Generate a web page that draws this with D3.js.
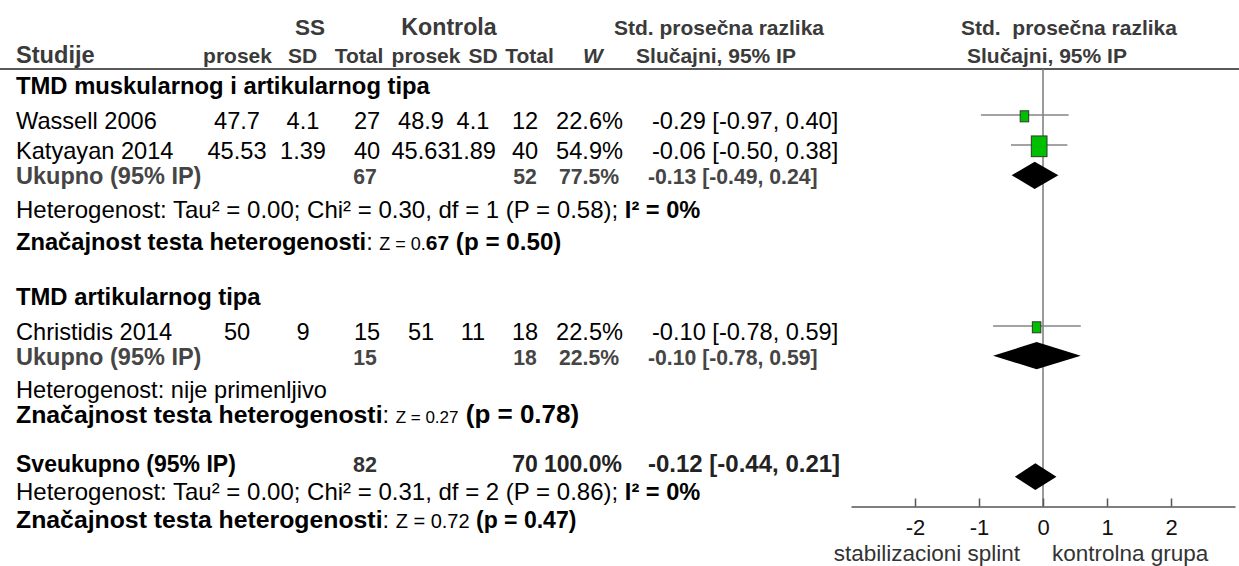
<!DOCTYPE html>
<html><head><meta charset="utf-8">
<script src="https://cdn.jsdelivr.net/npm/d3@7"></script>
<style>html,body{margin:0;padding:0;background:#fff;} svg{display:block;font-family:"Liberation Sans",Arial,sans-serif;} text{white-space:pre;}</style>
</head><body><svg id="c" width="1239" height="566"></svg>
<script>
// ---------- data ----------
const studies = ["Wassell 2006", "Katyayan 2014", "Christidis 2014"];
const studyGroup = [0, 0, 1];
const ssMean = [47.7, 45.53, 50];
const ssSD = [4.1, 1.39, 9];
const ssTotal = [27, 40, 15];
const ctlMean = [48.9, 45.63, 51];
const ctlSD = [4.1, 1.89, 11];
const ctlTotal = [12, 40, 18];
const weight = [22.6, 54.9, 22.5];
const smd = [-0.29, -0.06, -0.10];
const ciLow = [-0.97, -0.50, -0.78];
const ciHigh = [0.40, 0.38, 0.59];

const groups = ["TMD muskularnog i artikularnog tipa", "TMD artikularnog tipa"];
const groupSSTotal = [67, 15];
const groupCtlTotal = [52, 18];
const groupWeight = [77.5, 22.5];
const groupSMD = [-0.13, -0.10];
const groupLow = [-0.49, -0.78];
const groupHigh = [0.24, 0.59];
const groupTau2 = [0.00, null];
const groupChi2 = [0.30, null];
const groupDf = [1, null];
const groupHetP = [0.58, null];
const groupI2 = [0, null];
const groupZ = [0.67, 0.27];
const groupP = [0.50, 0.78];

const totalSS = 82, totalCtl = 70, totalWeight = 100.0;
const totalSMD = -0.12, totalLow = -0.44, totalHigh = 0.21;
const totalTau2 = 0.00, totalChi2 = 0.31, totalDf = 2, totalHetP = 0.86, totalI2 = 0;
const totalZ = 0.72, totalP = 0.47;

const axisTicks = [-2, -1, 0, 1, 2];
const favourLabels = ["stabilizacioni splint", "kontrolna grupa"];

// ---------- layout ----------
const svg = d3.select("#c");
const HDR = "#3a3a3a", SUB = "#454545";
const col = {ssMean: 237, ssSD: 303, ssTot: 367, ctlMean: 421, ctlSD: 473, ctlTot: 525, w: 623, wSum: 619, ci: 652, ciSum: 648};
const rowY = {h1: 35, h2: 63.3, s: [129.3, 159, 340], g: [94.3, 305], sub: [184.3, 365], het: [218.3, 398.3], z: [250, 423.3], tot: 471.7, het3: 500, z3: 528.3};
const forestY = {s: [115, 145, 326], sub: [175.3, 355.7], tot: 476.7};
const f2 = v => v.toFixed(2);
const f1 = v => v.toFixed(1);

function txt(str, x, y, o = {}) {
  return svg.append("text").attr("x", x).attr("y", y)
    .attr("font-size", o.size || 23.6)
    .attr("font-weight", o.bold ? "bold" : "normal")
    .attr("font-style", o.italic ? "italic" : "normal")
    .attr("fill", o.fill || "#000")
    .attr("text-anchor", o.anchor || "start")
    .text(str);
}
function rich(x, y, parts) {
  const t = svg.append("text").attr("x", x).attr("y", y);
  parts.forEach(p => t.append("tspan").attr("font-size", p.size || 23.6)
    .attr("font-weight", p.bold ? "bold" : "normal").attr("fill", p.fill || "#000").text(p.t));
  return t;
}

// ---------- header ----------
txt("SS", 310, rowY.h1, {size: 22.5, bold: true, anchor: "middle", fill: HDR});
txt("Kontrola", 449, rowY.h1, {size: 23.2, bold: true, anchor: "middle", fill: HDR});
txt("Std. prosečna razlika", 719, rowY.h1, {size: 21, bold: true, anchor: "middle", fill: HDR});
txt("Std.  prosečna razlika", 961, rowY.h1, {size: 21, bold: true, fill: HDR});
txt("Studije", 16, rowY.h2, {size: 23.6, bold: true, fill: HDR});
[["prosek", 237.5], ["SD", 302.5], ["Total", 359], ["prosek", 426], ["SD", 483], ["Total", 529.5]].forEach(d =>
  txt(d[0], d[1], rowY.h2, {size: 21, bold: true, anchor: "middle", fill: HDR}));
txt("W", 593, rowY.h2, {size: 21, bold: true, italic: true, anchor: "middle", fill: HDR});
txt("Slučajni, 95% IP", 716, rowY.h2, {size: 21, bold: true, anchor: "middle", fill: HDR});
txt("Slučajni, 95% IP", 967, rowY.h2, {size: 21, bold: true, fill: HDR});
svg.append("line").attr("x1", 0).attr("x2", 1239).attr("y1", 69).attr("y2", 69)
  .attr("stroke", "#222").attr("stroke-width", 1.5);

// ---------- table rows ----------
groups.forEach((g, gi) => txt(g, 16, rowY.g[gi], {size: 23.8, bold: true}));

studies.forEach((s, i) => {
  const y = rowY.s[i];
  txt(s, 16, y);
  txt(String(ssMean[i]), col.ssMean, y, {anchor: "middle"});
  txt(String(ssSD[i]), col.ssSD, y, {anchor: "middle"});
  txt(String(ssTotal[i]), col.ssTot, y, {anchor: "middle"});
  txt(String(ctlMean[i]), col.ctlMean, y, {anchor: "middle"});
  txt(String(ctlSD[i]), col.ctlSD, y, {anchor: "middle"});
  txt(String(ctlTotal[i]), col.ctlTot, y, {anchor: "middle"});
  txt(f1(weight[i]) + "%", col.w, y, {anchor: "end"});
  txt(f2(smd[i]) + " [" + f2(ciLow[i]) + ", " + f2(ciHigh[i]) + "]", col.ci, y);
});

groups.forEach((g, gi) => {
  const y = rowY.sub[gi];
  txt("Ukupno (95% IP)", 16, y, {size: 23.5, bold: true, fill: SUB});
  txt(String(groupSSTotal[gi]), col.ssTot - 2, y, {size: 21.2, bold: true, anchor: "middle", fill: SUB});
  txt(String(groupCtlTotal[gi]), col.ctlTot, y, {size: 21.2, bold: true, anchor: "middle", fill: SUB});
  txt(f1(groupWeight[gi]) + "%", col.wSum, y, {size: 21.2, bold: true, anchor: "end", fill: SUB});
  txt(f2(groupSMD[gi]) + " [" + f2(groupLow[gi]) + ", " + f2(groupHigh[gi]) + "]", col.ciSum, y, {size: 21.2, bold: true, fill: SUB});
});

// heterogeneity lines
function hetParts(tau2, chi2, df, p, i2) {
  return [{t: "Heterogenost: Tau² = " + f2(tau2) + "; Chi² = " + f2(chi2) + ", df = " + df + " (P = " + f2(p) + "); ", size: 24},
          {t: "I² = " + i2 + "%", bold: true, size: 23.6}];
}
rich(16, rowY.het[0], hetParts(groupTau2[0], groupChi2[0], groupDf[0], groupHetP[0], groupI2[0]));
txt("Heterogenost: nije primenljivo", 16, rowY.het[1]);
rich(16, rowY.het3, hetParts(totalTau2, totalChi2, totalDf, totalHetP, totalI2));

// significance lines (mixed sizes as in the source)
const z0 = f2(groupZ[0]);
rich(16, rowY.z[0], [
  {t: "Značajnost testa heterogenosti", bold: true, size: 23.7},
  {t: ": ", size: 23.6},
  {t: "Z = " + z0.slice(0, 2), size: 18},
  {t: z0.slice(2), size: 21, bold: true},
  {t: " (p = " + f2(groupP[0]) + ")", size: 24.2, bold: true}]);
rich(16, rowY.z[1], [
  {t: "Značajnost testa heterogenosti", bold: true, size: 24.8},
  {t: ": ", size: 23.6},
  {t: "Z = " + f2(groupZ[1]), size: 17},
  {t: " (p = " + f2(groupP[1]) + ")", size: 26, bold: true}]);
rich(16, rowY.z3, [
  {t: "Značajnost testa heterogenosti", bold: true, size: 24.8},
  {t: ": ", size: 23.6},
  {t: "Z = " + f2(totalZ), size: 20},
  {t: " (p = " + f2(totalP) + ")", size: 23, bold: true}]);

// overall row
txt("Sveukupno (95% IP)", 16, rowY.tot, {size: 23, bold: true});
txt(String(totalSS), col.ssTot - 2, rowY.tot, {size: 21.5, bold: true, anchor: "middle", fill: "#333"});
txt(String(totalCtl), col.ctlTot, rowY.tot, {size: 23, bold: true, anchor: "middle", fill: "#222"});
txt(f1(totalWeight) + "%", col.wSum + 3, rowY.tot, {size: 23, bold: true, anchor: "end", fill: "#222"});
txt(f2(totalSMD) + " [" + f2(totalLow) + ", " + f2(totalHigh) + "]", col.ciSum, rowY.tot, {size: 24, bold: true, fill: "#222"});

// ---------- forest plot ----------
const x = d3.scaleLinear().domain([-3, 3]).range([851, 1235]);
const sqW = d3.scaleLinear().domain([22.5, 54.9]).range([8.5, 15.7]);
const sqH = d3.scaleLinear().domain([22.5, 54.9]).range([11, 20.7]);
const axisY = 506.5;

svg.append("line").attr("x1", x(0)).attr("x2", x(0)).attr("y1", 69).attr("y2", axisY)
  .attr("stroke", "#7a7a7a").attr("stroke-width", 1.5);

const fg = svg.append("g");
studies.forEach((s, i) => {
  const y = forestY.s[i];
  fg.append("line").attr("x1", x(ciLow[i])).attr("x2", x(ciHigh[i])).attr("y1", y).attr("y2", y)
    .attr("stroke", "#858585").attr("stroke-width", 1.5);
  const w = sqW(weight[i]), h = sqH(weight[i]);
  fg.append("rect").attr("x", x(smd[i]) - w / 2).attr("y", y + 1.3 - h / 2).attr("width", w).attr("height", h)
    .attr("fill", "#00bf00").attr("stroke", "#2b3b2b").attr("stroke-width", 1);
});
function diamond(est, lo, hi, y, hh) {
  fg.append("path").attr("d", d3.line()([[x(lo), y], [x(est), y - hh], [x(hi), y], [x(est), y + hh]]) + "Z")
    .attr("fill", "#000");
}
groups.forEach((g, gi) => diamond(groupSMD[gi], groupLow[gi], groupHigh[gi], forestY.sub[gi], 13.6));
diamond(totalSMD, totalLow, totalHigh, forestY.tot, 13.4);

const ax = svg.append("g").attr("transform", `translate(0,${axisY})`)
  .call(d3.axisBottom(x).tickValues(axisTicks).tickFormat(d => String(d))
    .tickSizeInner(-8).tickSizeOuter(0).tickPadding(13));
ax.attr("font-family", null).attr("font-size", null);
ax.select(".domain").attr("stroke", "#555").attr("stroke-width", 1.5);
ax.selectAll(".tick line").attr("stroke", "#555").attr("stroke-width", 1.5);
ax.selectAll(".tick text").attr("font-size", 22).attr("fill", "#111");

txt(favourLabels[0], 1020, 561, {size: 22.5, anchor: "end", fill: "#333"});
txt(favourLabels[1], 1052, 561, {size: 22.5, fill: "#333"});
</script></body></html>
